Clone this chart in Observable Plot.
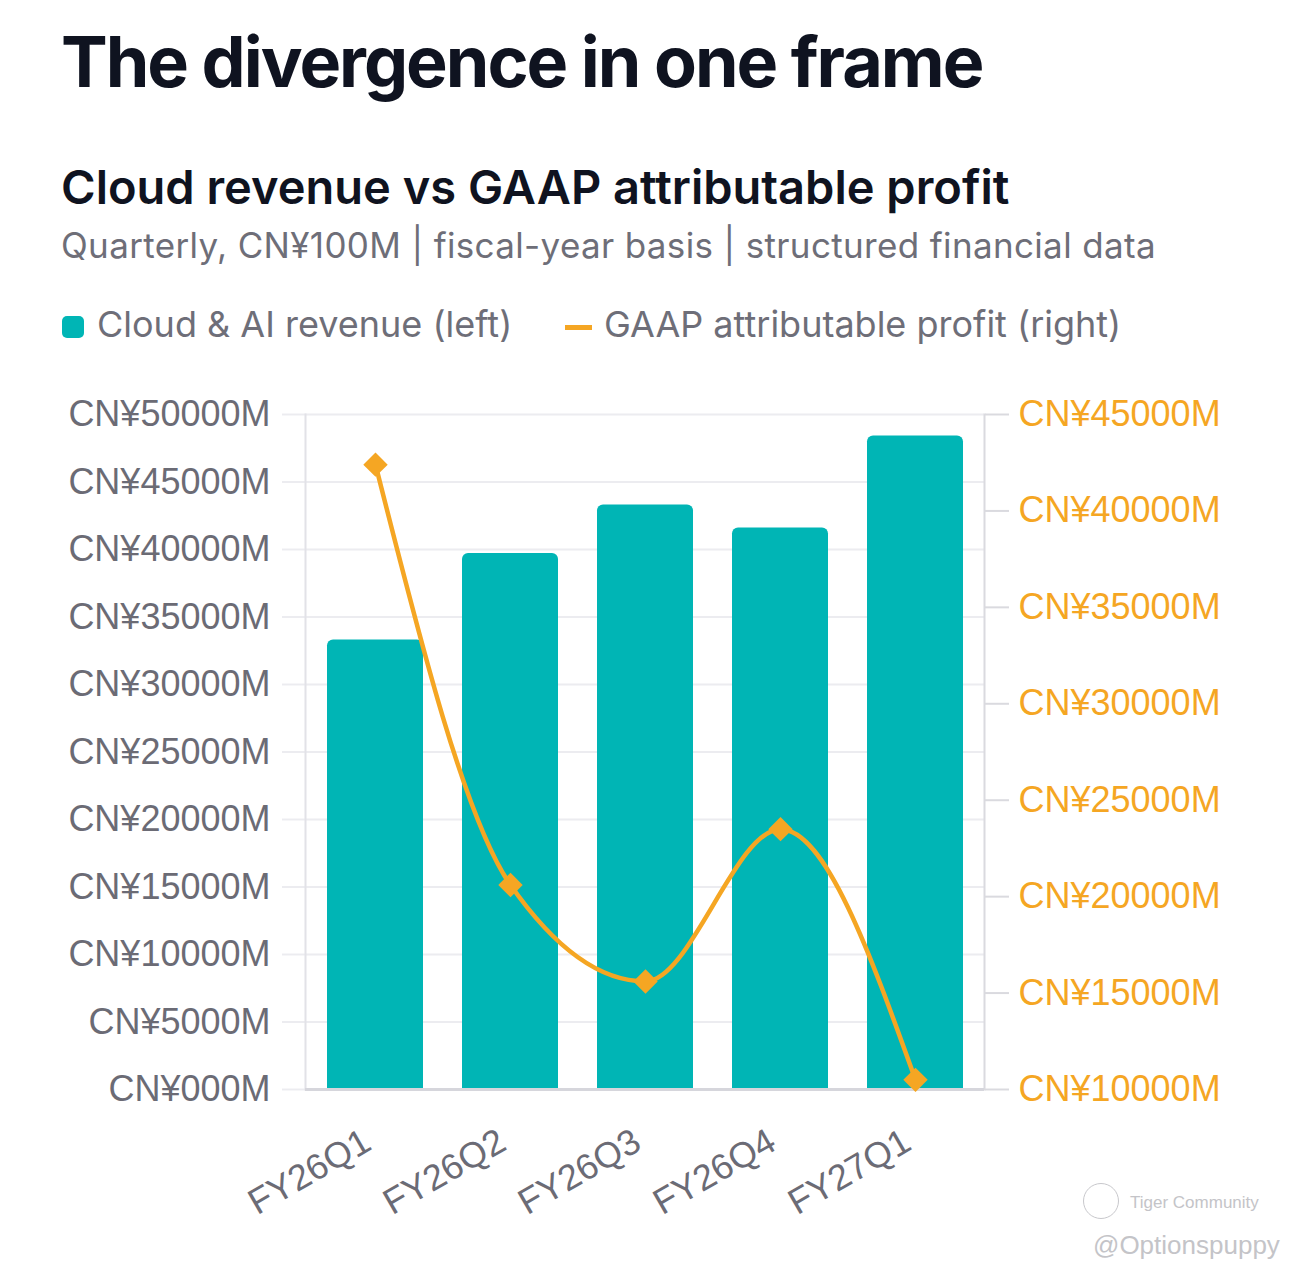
<!DOCTYPE html>
<html>
<head>
<meta charset="utf-8">
<script src="https://cdn.jsdelivr.net/npm/d3@7"></script>
<script src="https://cdn.jsdelivr.net/npm/@observablehq/plot@0.6"></script>
<style>
  html, body { margin: 0; padding: 0; background: #ffffff; }
  #page { position: relative; width: 1290px; height: 1274px; overflow: hidden; font-family: Inter, "Noto Sans", sans-serif; }
  .abs { position: absolute; white-space: nowrap; line-height: 1; }
  #title { left: 61px; top: 27px; font-size: 70px; font-weight: 700; color: #0f1320; letter-spacing: -2px; }
  #subtitle { left: 61px; top: 163px; font-size: 47px; font-weight: 600; color: #0f1320; letter-spacing: 0px; }
  #desc { left: 61px; top: 228px; font-size: 35px; font-weight: 400; color: #6e6e78; letter-spacing: 0.35px; }
  .leg { top: 306px; font-size: 36px; color: #6e6e78; }
  #sw1 { position: absolute; left: 62px; top: 316px; width: 22px; height: 22px; border-radius: 5px; background: #00b5b5; }
  #sw2 { position: absolute; left: 565px; top: 325px; width: 27px; height: 5px; background: #f5a623; }
  #chart { position: absolute; left: 0; top: 380px; }
  .wm { color: #c4c4c8; font-family: "Liberation Sans", Arial, sans-serif; }
</style>
</head>
<body>
<div id="page">
  <div id="title" class="abs">The divergence in one frame</div>
  <div id="subtitle" class="abs">Cloud revenue vs GAAP attributable profit</div>
  <div id="desc" class="abs">Quarterly, CN¥100M | fiscal-year basis | structured financial data</div>
  <div id="sw1"></div>
  <div class="abs leg" style="left:97px">Cloud &amp; AI revenue (left)</div>
  <div id="sw2"></div>
  <div class="abs leg" style="left:604px">GAAP attributable profit (right)</div>
  <div id="chart"></div>
  <div class="abs wm" style="left:1083px; top:1183px; width:34px; height:34px; border:1.5px solid #c8c8cc; border-radius:50%;"></div>
  <div class="abs wm" style="left:1130px; top:1194px; font-size:17px;">Tiger Community</div>
  <div class="abs wm" style="left:1093px; top:1232px; font-size:26px;">@Optionspuppy</div>
</div>
<script>
// Data (values in CN¥100M)
const quarters = ["FY26Q1", "FY26Q2", "FY26Q3", "FY26Q4", "FY27Q1"];
const cloudRevenue = [333, 397, 433, 416, 484];
const gaapProfit = [424, 206, 156, 235, 105];
const leftTicks = [0, 50, 100, 150, 200, 250, 300, 350, 400, 450, 500];
const rightTicks = [100, 150, 200, 250, 300, 350, 400, 450];

const leftDomain = [0, 500];
const rightDomain = [100, 450];
// map right-axis value into left-axis coordinate space
const toLeft = v => leftDomain[0] + (v - rightDomain[0]) * (leftDomain[1] - leftDomain[0]) / (rightDomain[1] - rightDomain[0]);
const fromLeft = v => rightDomain[0] + (v - leftDomain[0]) * (rightDomain[1] - rightDomain[0]) / (leftDomain[1] - leftDomain[0]);

const rows = quarters.map((q, i) => ({q, rev: cloudRevenue[i], profit: gaapProfit[i], profitL: toLeft(gaapProfit[i])}));

const TEAL = "#00b5b5", ORANGE = "#f5a623", GRAY = "#6b6b75";

const chart = Plot.plot({
  width: 1290,
  height: 894,
  marginTop: 34,
  marginBottom: 185,
  marginLeft: 305,
  marginRight: 306,
  style: {fontFamily: "'Liberation Sans', Arial, sans-serif", fontSize: "36px", background: "transparent"},
  x: {domain: quarters, paddingInner: 0.29, paddingOuter: 0.15, label: null},
  y: {domain: leftDomain, label: null},
  marks: [
    Plot.gridY(leftTicks, {stroke: "#ececf0", strokeOpacity: 1, strokeWidth: 2}),
    Plot.axisY(leftTicks, {anchor: "left", tickSize: 23, tickPadding: 12, stroke: "#ececf0", strokeOpacity: 1, strokeWidth: 2, fill: GRAY, tickFormat: d => `CN¥${d}00M`, label: null}),
    Plot.frame({anchor: "left", stroke: "#e2e2e7", strokeWidth: 2}),
    Plot.frame({anchor: "right", stroke: "#dadadf", strokeWidth: 2}),
    Plot.axisY(rightTicks.map(toLeft), {anchor: "right", tickSize: 24, tickPadding: 10, stroke: "#dadadf", strokeOpacity: 1, strokeWidth: 2, fill: ORANGE, tickFormat: d => `CN¥${Math.round(fromLeft(d))}00M`, label: null}),
    Plot.barY(rows, {x: "q", y: "rev", fill: TEAL, ry1: 6}),
    Plot.ruleY([0], {stroke: "#d6d6dc", strokeWidth: 3}),
    Plot.axisX({tickSize: 0, tickPadding: 49, dx: -8, tickRotate: -30, fill: GRAY, label: null}),
    Plot.line(rows, {x: "q", y: "profitL", stroke: ORANGE, strokeWidth: 4.5, curve: "monotone-x"}),
    Plot.dot(rows, {x: "q", y: "profitL", symbol: "diamond2", r: 11, fill: ORANGE, stroke: "none"})
  ]
});
document.getElementById("chart").appendChild(chart);
</script>
</body>
</html>
